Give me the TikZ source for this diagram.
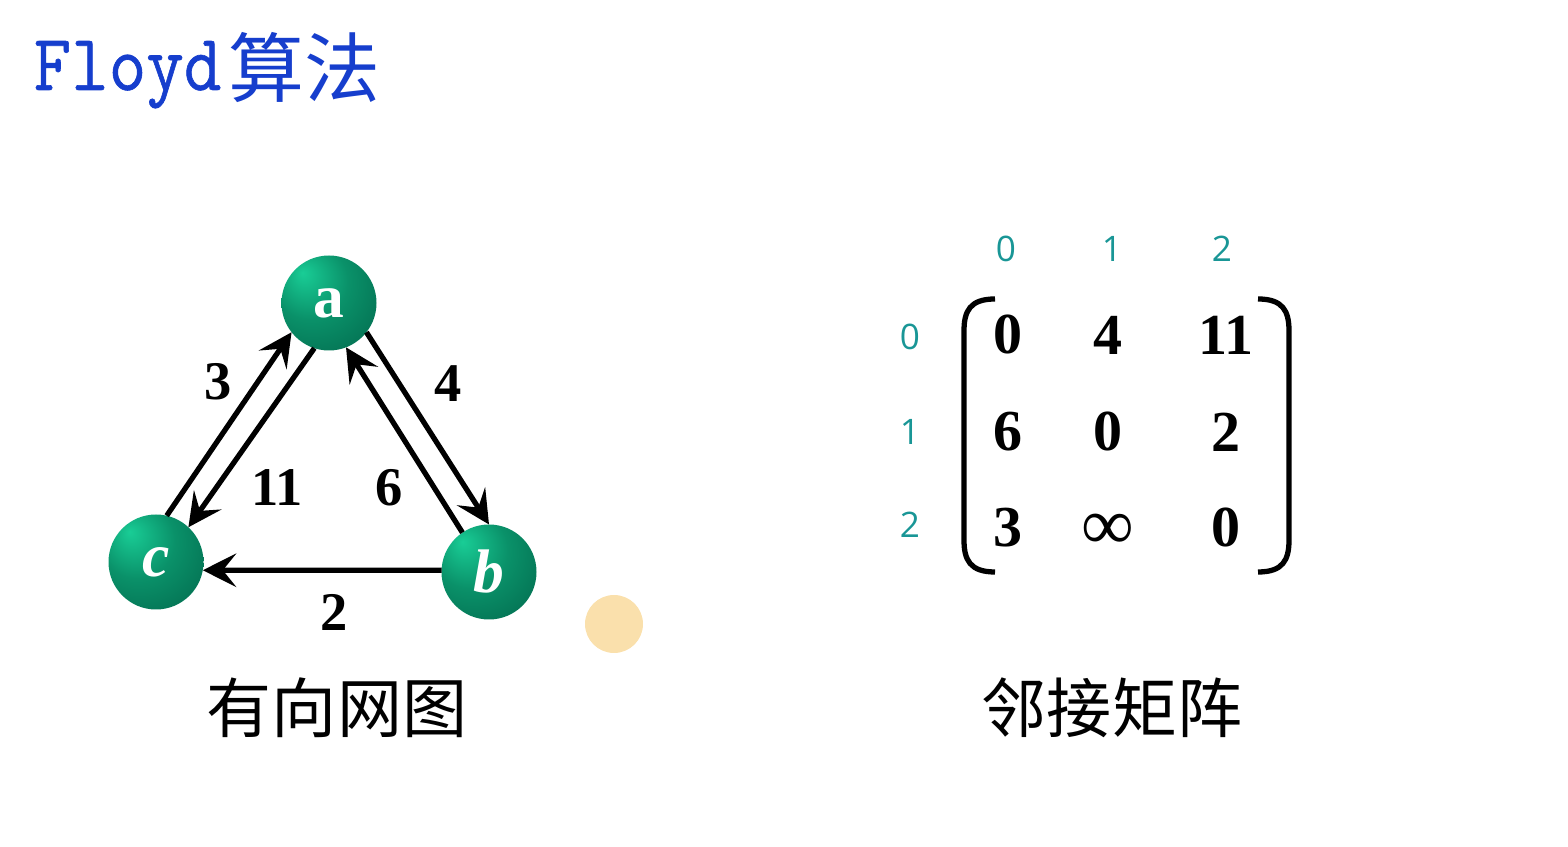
\documentclass[tikz,border=0pt]{standalone}
\usepackage{fontspec}
\setmainfont{Liberation Serif}
\newfontfamily\cjk{Noto Sans CJK SC}
\newfontfamily\idxsans{Open Sans}
\newfontfamily\ttheavy{Latin Modern Mono}[FakeBold=0.8]
\usetikzlibrary{arrows.meta}
\definecolor{titleblue}{RGB}{22,62,205}
\definecolor{idxteal}{RGB}{25,150,150}
\definecolor{ballhi}{RGB}{25,205,150}
\definecolor{ballmid}{RGB}{10,145,105}
\definecolor{balllo}{RGB}{0,95,70}
\definecolor{cursorglow}{RGB}{250,224,172}
\pgfdeclareradialshading{greenball}{\pgfpoint{-14bp}{16bp}}{color(0bp)=(ballhi); color(20bp)=(ballmid); color(50bp)=(balllo); color(70bp)=(balllo)}

\begin{document}
\begin{tikzpicture}[
  vertex/.style={circle,minimum size=0.95cm,inner sep=0pt,outer sep=0pt,shade,shading=greenball,text=white,font=\fontsize{17.5}{17.5}\selectfont\bfseries},
  arc/.style={line width=1.5pt,-{Stealth[length=9.5pt,width=9.5pt,inset=3.8pt]}},
  weight/.style={font=\fontsize{15.5}{15.5}\selectfont\bfseries},
  entry/.style={font=\fontsize{16.5}{16.5}\selectfont\bfseries},
  idx/.style={text=idxteal,font=\idxsans\fontsize{10}{10}\selectfont},
  caption/.style={font=\cjk\fontsize{18.5}{18.5}\selectfont}]
  \useasboundingbox (0,0) rectangle (15.68,8.46);
  \node[anchor=base west,inner sep=0pt,text=titleblue,xscale=0.91,font=\ttheavy\fontsize{22.8}{22.8}\selectfont] (ttl) at (0.33,7.56) {Floyd};
  \node[anchor=base west,inner sep=0pt,text=titleblue,font=\cjk\fontsize{21.6}{21.6}\selectfont] (ttlcn) at (2.28,7.49) {算法};
  % the graph
  \node[vertex] (a) at (3.29,5.43) {a};
  \node[vertex] (b) at (4.89,2.74) {\itshape b};
  \node[vertex] (c) at (1.56,2.84) {\itshape c};
  \draw[arc] (c.77) -- (a.218);
  \draw[arc] (a.252) -- (c.47);
  \draw[arc] (a.322) -- (b.90);
  \draw[arc] (b.124) -- (a.291);
  \draw[arc] (b.178) -- (c.350);
  \node[weight] (w3) at (2.18,4.64) {3};
  \node[weight] (w11) at (2.77,3.58) {11};
  \node[weight] (w6) at (3.89,3.58) {6};
  \node[weight] (w4) at (4.48,4.62) {4};
  \node[weight] (w2) at (3.34,2.34) {2};
  \fill[cursorglow] (6.14,2.22) circle (0.29);
  \node[caption] (capg) at (3.37,1.38) {有向网图};
  % the matrix
  \node[idx] (h0) at (10.06,5.97) {0};
  \node[idx] (h1) at (11.12,5.97) {1};
  \node[idx] (h2) at (12.22,5.97) {2};
  \node[idx] (r0) at (9.10,5.09) {0};
  \node[idx] (r1) at (9.10,4.14) {1};
  \node[idx] (r2) at (9.10,3.21) {2};
  \draw[line width=1.5pt] (9.95,5.47) .. controls (9.70,5.47) and (9.64,5.35) .. (9.64,5.15) -- (9.64,3.06) .. controls (9.64,2.86) and (9.70,2.74) .. (9.95,2.74);
  \draw[line width=1.5pt] (12.58,5.47) .. controls (12.83,5.47) and (12.89,5.35) .. (12.89,5.15) -- (12.89,3.06) .. controls (12.89,2.86) and (12.83,2.74) .. (12.58,2.74);
  \node[entry] (m00) at (10.08,5.11) {0};
  \node[entry] (m01) at (11.08,5.11) {4};
  \node[entry] (m02) at (12.26,5.11) {11};
  \node[entry] (m10) at (10.08,4.14) {6};
  \node[entry] (m11) at (11.08,4.14) {0};
  \node[entry] (m12) at (12.26,4.14) {2};
  \node[entry] (m20) at (10.08,3.18) {3};
  \node[font=\fontsize{21}{21}\selectfont] (m21) at (11.08,3.14) {∞};
  \node[entry] (m22) at (12.26,3.18) {0};
  \node[caption] (capm) at (11.12,1.38) {邻接矩阵};
\end{tikzpicture}
\end{document}
